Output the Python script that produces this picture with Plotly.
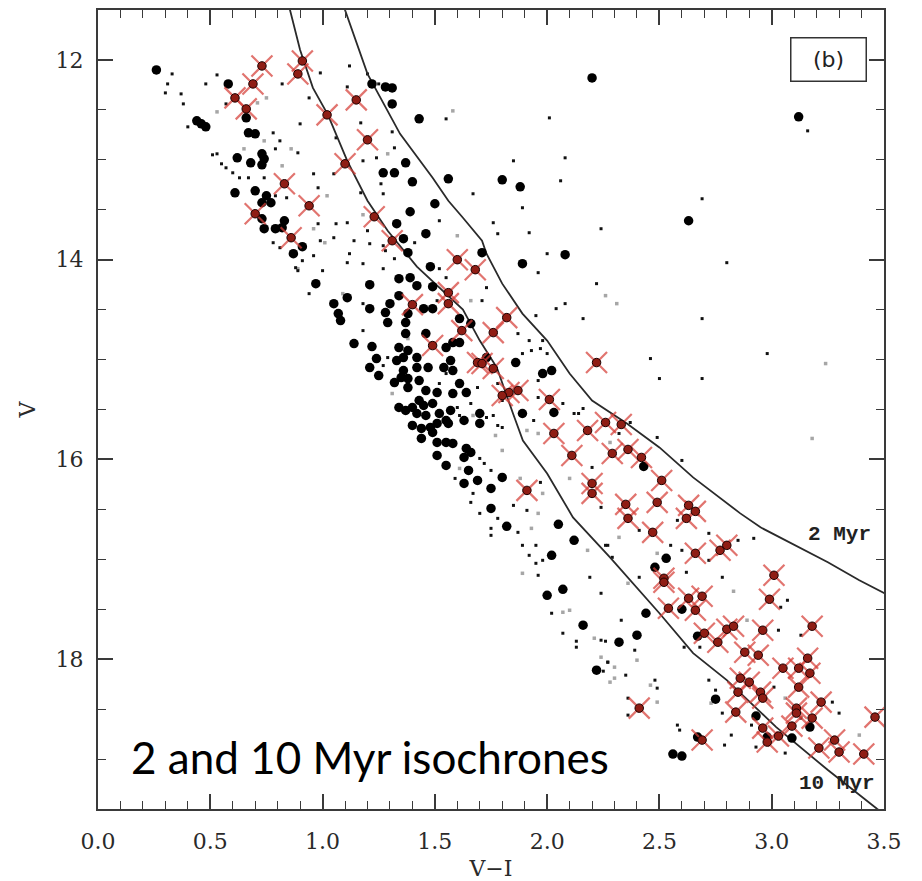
import plotly.graph_objects as go

# ---- colour-magnitude data (V-I colour, V magnitude) ----
cross_vi = [0.73, 0.91, 0.89, 0.69, 0.61, 0.66, 1.15, 1.02, 1.20, 1.10, 0.83, 0.94, 0.70, 0.86, 1.23, 1.31,
            1.60, 1.68, 1.56, 1.56, 1.40, 1.82, 1.76, 1.62, 1.49, 1.69, 1.71, 1.76, 1.83, 1.87, 2.01, 1.80,
            2.22, 2.26, 2.33, 2.18, 2.03, 2.11, 2.29, 2.36, 2.42, 2.20, 2.20, 2.35, 2.36, 2.51, 2.49, 2.63,
            2.66, 2.62, 2.47, 2.66, 2.77, 2.80, 2.52, 2.52, 3.01, 2.99, 2.54, 2.63, 2.69, 2.66, 2.70, 2.80,
            2.83, 2.96, 3.18, 1.91, 2.41, 2.76, 2.88, 2.94, 3.16, 3.05, 3.12, 3.17, 2.86, 2.90, 2.85, 2.95,
            2.96, 3.12, 3.22, 3.46, 2.84, 3.11, 3.11, 3.18, 2.96, 2.98, 3.03, 2.69, 3.21, 3.28, 3.30, 3.41,
            3.09]
cross_v = [12.06, 12.01, 12.14, 12.24, 12.38, 12.49, 12.40, 12.55, 12.80, 13.04, 13.24, 13.46, 13.54, 13.78, 13.57, 13.81,
           14.00, 14.10, 14.33, 14.44, 14.45, 14.58, 14.73, 14.71, 14.86, 15.03, 15.04, 15.09, 15.33, 15.31, 15.40, 15.36,
           15.03, 15.63, 15.65, 15.71, 15.74, 15.96, 15.94, 15.90, 15.98, 16.24, 16.34, 16.45, 16.59, 16.21, 16.43, 16.46,
           16.52, 16.59, 16.73, 16.94, 16.91, 16.86, 17.19, 17.23, 17.16, 17.40, 17.49, 17.39, 17.37, 17.51, 17.74, 17.70,
           17.67, 17.71, 17.67, 16.31, 18.49, 17.83, 17.93, 17.96, 17.99, 18.09, 18.09, 18.14, 18.19, 18.23, 18.33, 18.33,
           18.39, 18.28, 18.43, 18.58, 18.53, 18.49, 18.54, 18.59, 18.69, 18.83, 18.77, 18.81, 18.89, 18.81, 18.93, 18.95,
           18.67]

bright_vi = [0.26, 0.58, 0.66, 0.44, 0.46, 0.48, 0.67, 0.70, 0.62, 0.68, 0.73, 0.74, 0.73, 0.61, 0.70, 0.75,
             0.73, 0.77, 0.83, 0.82, 0.73, 0.74, 0.79, 0.91, 0.87, 0.97, 1.22, 1.28, 1.31, 1.31, 1.43, 1.37,
             1.27, 1.32, 1.40, 1.56, 1.50, 1.39, 1.33, 1.46, 1.36, 1.48, 1.39, 1.42, 1.21, 1.34, 1.05, 1.07,
             1.08, 1.11, 1.21, 1.28, 1.29, 1.37, 1.37, 1.14, 1.34, 1.38, 1.24, 1.21, 1.25, 1.33, 1.36, 1.38,
             1.42, 1.43, 1.37, 1.40, 1.43, 1.46, 1.48, 1.46, 1.54, 1.55, 1.58, 1.57, 1.38, 1.71, 1.89, 2.08,
             1.34, 1.49, 1.30, 1.38, 1.45, 1.49, 1.46, 1.22, 1.36, 1.58, 1.61, 1.61, 1.35, 1.32, 1.42, 1.47,
             1.38, 1.51, 1.49, 1.52, 1.55, 1.42, 1.34, 1.57, 1.58, 1.61, 1.64, 1.70, 1.73, 1.86, 1.98, 2.02,
             1.89, 2.03, 1.63, 1.66, 1.45, 1.40, 1.44, 1.49, 1.51, 1.56, 1.44, 1.51, 1.55, 1.58, 1.51, 1.55,
             1.64, 1.66, 1.63, 1.65, 1.63, 1.69, 1.75, 1.70, 1.80, 1.75, 1.82, 2.05, 2.12, 2.02, 2.00, 2.07,
             2.16, 2.32, 2.22, 2.43, 2.53, 2.48, 2.44, 2.40, 2.60, 2.67, 2.75, 2.93, 3.17, 3.09, 2.98, 2.67,
             2.56, 2.60, 2.20, 3.12, 2.63, 1.80, 1.88]
bright_v = [12.10, 12.24, 12.58, 12.61, 12.64, 12.67, 12.73, 12.74, 12.98, 13.03, 12.94, 12.99, 13.05, 13.33, 13.31, 13.36,
            13.43, 13.43, 13.61, 13.68, 13.59, 13.69, 13.69, 13.87, 13.94, 14.24, 12.24, 12.27, 12.28, 12.44, 12.59, 13.03,
            13.13, 13.13, 13.22, 13.19, 13.44, 13.52, 13.64, 13.74, 13.79, 14.07, 14.18, 14.26, 14.25, 14.36, 14.44, 14.54,
            14.61, 14.38, 14.49, 14.53, 14.63, 14.63, 14.74, 14.84, 14.88, 14.91, 14.99, 15.08, 15.16, 15.01, 15.11, 15.19,
            15.08, 15.21, 15.51, 15.48, 15.41, 15.56, 15.68, 15.31, 15.08, 14.88, 15.34, 15.51, 13.93, 13.93, 14.04, 13.95,
            14.19, 14.27, 14.44, 14.54, 14.49, 14.49, 14.74, 14.87, 14.98, 14.83, 14.83, 14.59, 15.18, 15.23, 14.98, 15.08,
            15.28, 15.33, 15.44, 15.54, 15.61, 15.54, 15.48, 15.01, 15.11, 15.24, 15.33, 15.54, 14.98, 15.03, 15.14, 15.11,
            15.54, 15.53, 15.61, 14.64, 15.46, 15.66, 15.69, 15.73, 15.64, 15.64, 15.79, 15.83, 15.83, 15.84, 15.96, 16.06,
            15.89, 15.93, 15.98, 16.11, 16.24, 16.21, 16.29, 15.64, 16.18, 16.49, 16.67, 16.65, 16.81, 16.96, 17.36, 17.30,
            17.66, 17.83, 18.11, 16.07, 16.99, 17.08, 17.54, 17.76, 17.50, 17.77, 18.40, 18.57, 18.68, 18.79, 18.78, 18.78,
            18.95, 18.97, 12.18, 12.57, 13.61, 13.20, 13.27]

faint_vi = [0.33, 0.31, 0.30, 0.37, 0.38, 0.48, 0.53, 0.40, 0.53, 0.57, 0.60, 0.63, 0.67, 0.74, 0.82, 0.57,
            0.78, 0.81, 0.79, 0.89, 0.90, 0.94, 0.99, 1.12, 1.11, 1.06, 1.17, 1.18, 1.05, 0.96, 0.98, 0.79,
            0.84, 0.78, 0.81, 0.99, 1.06, 1.11, 1.14, 1.20, 1.11, 0.96, 1.00, 0.89, 0.91, 1.31, 1.32, 1.26,
            1.27, 1.17, 1.25, 1.20, 1.32, 1.27, 0.51, 0.55, 0.88, 0.94, 0.98, 1.05, 1.12, 1.21, 1.28, 1.18,
            1.27, 1.52, 1.52, 1.41, 1.76, 1.78, 1.89, 1.92, 1.96, 2.00, 2.04, 1.98, 1.89, 1.93, 1.87, 1.71,
            1.73, 1.55, 1.51, 1.18, 1.18, 1.29, 1.27, 1.55, 1.52, 1.60, 1.66, 1.69, 1.78, 1.80, 1.73, 1.80,
            1.94, 1.96, 2.07, 2.12, 2.01, 1.85, 2.08, 2.06, 1.67, 2.24, 2.69, 3.16, 2.80, 2.22, 2.08, 1.95,
            2.16, 2.69, 2.98, 2.46, 2.50, 2.69, 1.92, 1.97, 2.00, 1.96, 2.16, 2.49, 1.61, 1.70, 1.76, 1.78,
            1.70, 1.72, 1.75, 1.59, 1.67, 1.66, 1.70, 1.75, 1.75, 1.78, 1.85, 1.87, 1.91, 1.89, 1.95, 1.92,
            1.96, 1.95, 1.98, 2.02, 2.07, 1.97, 2.19, 2.24, 2.29, 2.27, 2.33, 2.20, 2.14, 2.32, 2.37, 2.60,
            2.24, 2.41, 2.26, 2.55, 2.58, 2.72, 2.85, 2.92, 2.60, 2.62, 2.78, 3.07, 2.41, 3.03, 2.72, 2.39,
            2.27, 2.35, 2.48, 2.49, 2.36, 2.36, 2.58, 2.59, 2.72, 2.75, 2.78, 2.79, 2.82, 2.93, 3.06, 3.01,
            3.13, 2.68, 2.61, 3.27, 3.30, 2.91, 3.13, 3.04, 2.13, 2.13, 2.24, 2.26, 2.27, 2.25, 1.24, 1.55]
faint_v = [12.14, 12.24, 12.33, 12.34, 12.44, 12.24, 12.15, 12.67, 12.94, 13.08, 13.13, 13.18, 13.18, 13.18, 12.24, 12.44,
           12.73, 12.81, 12.89, 12.93, 12.64, 12.38, 12.13, 12.06, 12.27, 12.78, 12.63, 13.01, 13.14, 13.14, 13.28, 13.36,
           13.38, 13.83, 13.88, 13.81, 13.64, 13.63, 13.81, 13.71, 14.03, 13.96, 14.11, 14.11, 14.01, 12.72, 12.88, 13.24,
           13.34, 13.33, 12.24, 12.14, 13.99, 13.86, 12.95, 13.04, 14.08, 14.34, 13.64, 13.78, 13.94, 13.84, 13.91, 14.04,
           14.09, 14.09, 13.61, 13.83, 13.63, 13.74, 13.48, 13.73, 14.13, 13.94, 14.49, 14.81, 14.94, 14.91, 14.74, 14.41,
           14.28, 14.18, 14.41, 14.44, 14.71, 14.98, 15.06, 15.14, 15.24, 15.48, 15.44, 15.28, 15.24, 15.41, 15.58, 15.68,
           15.61, 15.21, 15.44, 15.54, 12.58, 13.01, 12.98, 13.21, 13.34, 13.69, 13.39, 12.71, 14.03, 14.24, 14.44, 14.56,
           14.59, 14.59, 14.94, 14.99, 15.19, 15.19, 14.81, 14.89, 14.94, 15.38, 15.49, 15.78, 15.56, 15.51, 15.56, 15.66,
           15.99, 16.04, 16.11, 16.19, 16.34, 16.43, 16.54, 16.69, 16.76, 16.59, 16.46, 16.73, 16.51, 16.86, 16.86, 16.96,
           17.16, 17.04, 17.01, 17.54, 17.74, 16.23, 17.18, 17.34, 16.98, 16.86, 17.61, 16.08, 15.54, 15.74, 15.63, 16.01,
           16.48, 16.71, 16.86, 16.86, 16.61, 16.74, 16.81, 16.79, 16.91, 17.13, 17.18, 17.41, 17.18, 17.71, 17.01, 17.91,
           18.03, 18.16, 18.21, 18.29, 18.39, 18.56, 18.66, 18.71, 18.21, 18.31, 18.54, 18.86, 18.76, 18.88, 18.94, 18.28,
           17.76, 17.88, 17.88, 18.43, 18.54, 18.66, 18.59, 17.48, 17.82, 17.88, 17.81, 17.82, 18.03, 18.12, 12.98, 12.59]

grey_vi = [0.71, 0.75, 0.53, 0.65, 0.74, 0.82, 0.86, 1.02, 0.96, 0.89, 1.01, 1.29, 1.18, 0.80, 1.58, 1.60,
           1.66, 1.38, 1.09, 1.31, 2.26, 2.31, 3.24, 3.18, 1.67, 1.77, 1.80, 1.61, 1.93, 1.89, 2.07, 1.98,
           1.96, 2.10, 2.18, 2.36, 2.32, 1.91, 1.96, 1.88, 2.28, 2.49, 2.83, 2.89, 2.10, 2.30, 2.40, 2.30,
           2.46, 2.49, 2.73, 3.06, 3.39, 2.21, 2.24, 2.28]
grey_v = [12.43, 12.38, 12.52, 12.89, 12.81, 13.06, 12.89, 13.36, 13.69, 14.09, 13.83, 12.94, 13.55, 13.71, 12.51, 13.76,
          14.41, 14.79, 14.34, 15.34, 14.36, 14.44, 15.04, 15.79, 15.56, 15.76, 15.91, 16.09, 16.69, 17.14, 17.53, 16.34,
          16.54, 16.19, 16.91, 17.24, 16.78, 15.71, 15.74, 16.19, 15.83, 16.94, 17.32, 17.61, 17.51, 18.08, 18.01, 18.19,
          18.26, 18.43, 18.44, 18.39, 18.76, 17.79, 17.98, 18.23]

# ---- isochrones ----
iso2_vi = [1.09, 1.10, 1.20, 1.345, 1.49, 1.56, 1.625, 1.71, 1.73, 1.80, 1.89, 2.00, 2.10, 2.20, 2.355, 2.50,
           2.65, 2.86, 2.95, 3.09, 3.25, 3.39, 3.52]
iso2_v = [11.40, 11.50, 12.14, 12.74, 13.18, 13.41, 13.58, 13.81, 13.94, 14.24, 14.54, 14.81, 15.14, 15.41, 15.64, 15.88,
          16.18, 16.54, 16.68, 16.84, 17.03, 17.21, 17.36]

iso10_vi = [0.83, 0.855, 0.90, 0.957, 1.024, 1.11, 1.20, 1.29, 1.42, 1.523, 1.625, 1.70, 1.776, 1.848, 1.892, 2.00,
            2.115, 2.28, 2.50, 2.65, 2.80, 3.02, 3.25, 3.47, 3.50]
iso10_v = [11.35, 11.50, 11.90, 12.28, 12.55, 13.01, 13.41, 13.71, 14.07, 14.29, 14.50, 14.81, 15.08, 15.54, 15.81, 16.14,
           16.58, 16.98, 17.54, 17.94, 18.21, 18.68, 19.11, 19.50, 19.55]

x_ticks = [0.0, 0.5, 1.0, 1.5, 2.0, 2.5, 3.0, 3.5]
y_ticks = [12, 14, 16, 18]

AX = "#3a3a3a"
SERIF = "DejaVu Serif, Liberation Serif, serif"
MONO = "Liberation Mono, Courier New, monospace"
CROSS_RED = "rgba(214,62,55,0.72)"

fig = go.Figure()

fig.add_trace(go.Scatter(x=grey_vi, y=grey_v, mode="markers", hoverinfo="skip",
                         marker=dict(symbol="square", size=3.5, color="#a6a6a6", line_width=0)))
fig.add_trace(go.Scatter(x=faint_vi, y=faint_v, mode="markers", hoverinfo="skip",
                         marker=dict(symbol="square", size=3, color="#111111", line_width=0)))
for vi, v in ((iso2_vi, iso2_v), (iso10_vi, iso10_v)):
    fig.add_trace(go.Scatter(x=vi, y=v, mode="lines", hoverinfo="skip",
                             line=dict(color="#2a2a2a", width=1.8)))
fig.add_trace(go.Scatter(x=bright_vi, y=bright_v, mode="markers", hoverinfo="skip",
                         marker=dict(symbol="circle", size=9.5, color="#000000", line_width=0)))
fig.add_trace(go.Scatter(x=cross_vi, y=cross_v, mode="markers", hoverinfo="skip",
                         marker=dict(symbol="x-thin-open", size=21, color=CROSS_RED,
                                     line=dict(color=CROSS_RED, width=2.2))))
fig.add_trace(go.Scatter(x=cross_vi, y=cross_v, mode="markers", hoverinfo="skip",
                         marker=dict(symbol="circle", size=8.5, color="#8f1d14",
                                     line=dict(color="#1a0000", width=1))))

fig.add_annotation(x=3.255, y=12.0, xref="x", yref="y", text="(b)", showarrow=False,
                   font=dict(family="DejaVu Sans, sans-serif", size=22, color="#222"),
                   bordercolor="#333", borderwidth=1.5, borderpad=2, width=70, height=38,
                   bgcolor="white")
fig.add_annotation(x=3.30, y=16.75, xref="x", yref="y", text="<b>2 Myr</b>", showarrow=False,
                   font=dict(family=MONO, size=21, color="#222"))
fig.add_annotation(x=3.29, y=19.24, xref="x", yref="y", text="<b>10 Myr</b>", showarrow=False,
                   font=dict(family=MONO, size=21, color="#222"))
fig.add_annotation(x=0.14, y=18.98, xref="x", yref="y", xanchor="left", yanchor="middle",
                   text="2 and 10 Myr isochrones", showarrow=False,
                   font=dict(family="Lato, Open Sans, sans-serif", size=44, color="#000"))

axis_common = dict(showgrid=False, zeroline=False, showline=True, linecolor=AX, linewidth=2,
                   ticks="inside", tickcolor=AX, tickwidth=1.5, ticklen=15, mirror="allticks",
                   automargin=False,
                   tickfont=dict(family=SERIF, size=22, color="#2a2a2a"))

fig.update_xaxes(range=[0, 3.5], tickvals=x_ticks, tickformat=".1f", ticklabelstandoff=12,
                 minor=dict(dtick=0.1, tick0=0, ticks="inside", ticklen=8, tickwidth=1.2, tickcolor=AX),
                 title=dict(text="V\u2212I", font=dict(family=SERIF, size=22, color="#2a2a2a"), standoff=12),
                 **axis_common)
fig.update_yaxes(range=[19.5, 11.5], tickvals=y_ticks, ticklabelstandoff=8,
                 minor=dict(dtick=0.5, tick0=11.5, ticks="inside", ticklen=8, tickwidth=1.2, tickcolor=AX),
                 title=dict(text="V", font=dict(family=SERIF, size=22, color="#2a2a2a"), standoff=14),
                 **axis_common)

fig.update_layout(width=922, height=881, margin=dict(l=98, r=38, t=10, b=72),
                  paper_bgcolor="white", plot_bgcolor="white", showlegend=False)

fig.write_html("out.html")
